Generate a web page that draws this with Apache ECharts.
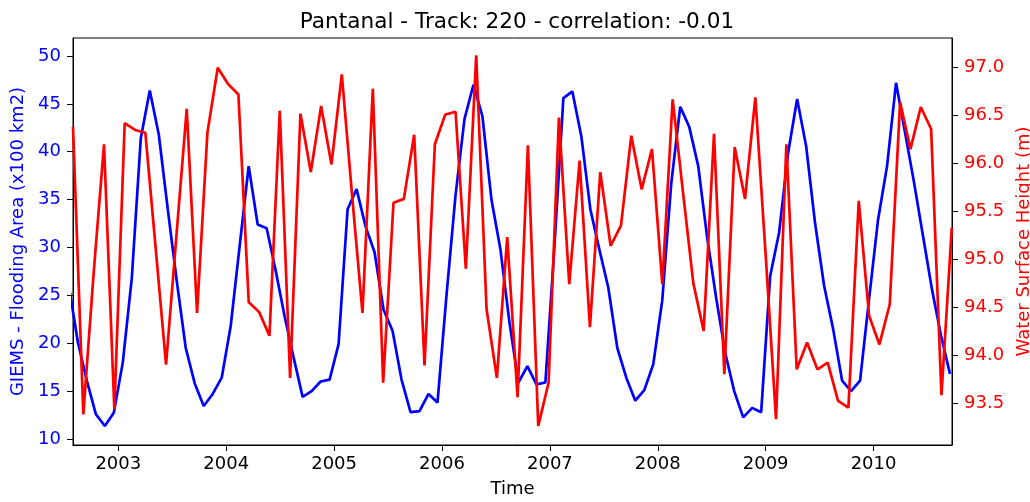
<!DOCTYPE html>
<html>
<head>
<meta charset="utf-8">
<script src="https://cdn.jsdelivr.net/npm/echarts@6/dist/echarts.min.js"></script>
<style>
  html, body { margin: 0; padding: 0; background: #fff; }
  #chart { width: 1030px; height: 502px; }
</style>
</head>
<body>
<div id="chart"></div>
<script>
// ---- Data ----
const titleText = 'Pantanal - Track: 220 - correlation: -0.01';
// GIEMS flooding area, monthly (mid-month), first value = July 2002
const giemsStartYear = 2002;
const giemsStartMonth = 7;
const giemsArea = [
  26.0, 20.1, 16.1, 12.6, 11.35, 12.75,
  18.0, 26.8, 41.4, 46.4, 41.8, 34.0, 26.5, 19.5, 15.8, 13.45, 14.7, 16.4,
  21.8, 30.2, 38.5, 32.4, 32.0, 27.6, 22.8, 18.5, 14.4, 15.0, 16.0, 16.2,
  19.9, 34.0, 36.1, 32.2, 29.5, 23.5, 21.3, 16.2, 12.8, 12.9, 14.7, 13.8,
  25.0, 35.4, 43.4, 47.0, 43.7, 35.0, 29.8, 22.2, 15.9, 17.6, 15.7, 15.9,
  30.0, 45.6, 46.3, 41.6, 34.0, 29.8, 25.8, 19.5, 16.4, 14.0, 15.1, 17.8,
  24.5, 36.7, 44.7, 42.6, 38.5, 31.0, 24.7, 19.0, 15.0, 12.25, 13.25, 12.8,
  27.0, 31.6, 39.9, 45.5, 40.6, 32.5, 26.0, 21.5, 16.1, 15.0, 16.1, 24.6,
  32.9, 38.5, 47.2, 42.0, 36.8, 31.2, 25.6, 20.8, 16.8
];
// Altimetry water surface height, one value per 35-day repeat cycle
const wshStartYear = 2002.580;
const wshRepeatDays = 35;
const waterHeight = [
  96.38, 93.38, 94.86, 96.20, 93.43, 96.42, 96.35, 96.32, 95.11, 93.90,
  95.24, 96.57, 94.44, 96.32, 97.00, 96.83, 96.72, 94.55, 94.45, 94.20,
  96.55, 93.76, 96.52, 95.91, 96.60, 95.99, 96.93, 95.66, 94.44, 96.78,
  93.71, 95.59, 95.63, 96.30, 93.89, 96.20, 96.51, 96.54, 94.90, 97.13,
  94.48, 93.76, 95.23, 93.56, 96.19, 93.26, 93.71, 96.48, 94.74, 96.03,
  94.29, 95.91, 95.14, 95.35, 96.29, 95.73, 96.15, 94.74, 96.67, 95.70,
  94.75, 94.25, 96.31, 93.80, 96.17, 95.63, 96.69, 95.04, 93.33, 96.20,
  93.85, 94.13, 93.85, 93.92, 93.52, 93.45, 95.61, 94.41, 94.11, 94.53,
  96.64, 96.15, 96.59, 96.36, 93.58, 95.33
];
const yearTicks = [2003, 2004, 2005, 2006, 2007, 2008, 2009, 2010];
const leftTicks = [10, 15, 20, 25, 30, 35, 40, 45, 50];
const rightTicks = [93.5, 94.0, 94.5, 95.0, 95.5, 96.0, 96.5, 97.0];

// ---- Build series points (x in decimal years) ----
const giemsData = giemsArea.map((v, k) =>
  [giemsStartYear + (giemsStartMonth - 1 + k + 0.5) / 12, v]);
const wshData = waterHeight.map((v, j) =>
  [wshStartYear + j * wshRepeatDays / 365.25, v]);

const FONT = 'DejaVu Sans';
const chart = echarts.init(document.getElementById('chart'), null, { renderer: 'canvas' });
chart.setOption({
  animation: false,
  backgroundColor: '#ffffff',
  title: {
    text: titleText,
    left: 512, top: 6, textAlign: 'center',
    textStyle: { fontFamily: FONT, fontSize: 21.6, fontWeight: 'normal', color: '#000' }
  },
  grid: {
    left: 73, right: 78, top: 38, bottom: 57,
    outerBoundsMode: 'none', containLabel: false,
    show: true, borderColor: '#000', borderWidth: 1, backgroundColor: 'transparent'
  },
  xAxis: {
    type: 'value',
    min: 2002.580, max: 2010.727,
    name: 'Time', nameLocation: 'middle', nameGap: 35,
    nameTextStyle: { fontFamily: FONT, fontSize: 18, color: '#000' },
    axisLine: { show: true, lineStyle: { color: '#000', width: 1 } },
    axisTick: { show: true, length: 6, lineStyle: { color: '#000', width: 1 }, customValues: yearTicks },
    axisLabel: { fontFamily: FONT, fontSize: 18, color: '#000', margin: 10,
                 customValues: yearTicks, formatter: v => String(Math.round(v)) },
    splitLine: { show: false }
  },
  yAxis: [
    {
      type: 'value', position: 'left',
      min: 9.37, max: 51.88,
      name: 'GIEMS - Flooding Area (x100 km2)', nameLocation: 'middle', nameGap: 44, nameRotate: 90,
      nameTextStyle: { fontFamily: FONT, fontSize: 18, color: '#0000ff' },
      axisLine: { show: true, lineStyle: { color: '#000', width: 1 } },
      axisTick: { show: true, length: 6, lineStyle: { color: '#000', width: 1 }, customValues: leftTicks },
      axisLabel: { fontFamily: FONT, fontSize: 18, color: '#0000ff', margin: 12,
                   customValues: leftTicks, formatter: v => String(Math.round(v)) },
      splitLine: { show: false }
    },
    {
      type: 'value', position: 'right',
      min: 93.06, max: 97.31,
      name: 'Water Surface Height (m)', nameLocation: 'middle', nameGap: 58, nameRotate: 90,
      nameTextStyle: { fontFamily: FONT, fontSize: 18, color: '#ff0000' },
      axisLine: { show: true, lineStyle: { color: '#000', width: 1 } },
      axisTick: { show: true, length: 6, lineStyle: { color: '#000', width: 1 }, customValues: rightTicks },
      axisLabel: { fontFamily: FONT, fontSize: 18, color: '#ff0000', margin: 12,
                   customValues: rightTicks, formatter: v => v.toFixed(1) },
      splitLine: { show: false }
    }
  ],
  series: [
    {
      name: 'GIEMS', type: 'line', yAxisIndex: 0, data: giemsData,
      showSymbol: false, clip: true,
      lineStyle: { color: '#0000ff', width: 2.7 }, itemStyle: { color: '#0000ff' }
    },
    {
      name: 'WSH', type: 'line', yAxisIndex: 1, data: wshData,
      showSymbol: false, clip: true,
      lineStyle: { color: '#ff0000', width: 2.7 }, itemStyle: { color: '#ff0000' }
    }
  ]
});
</script>
</body>
</html>
